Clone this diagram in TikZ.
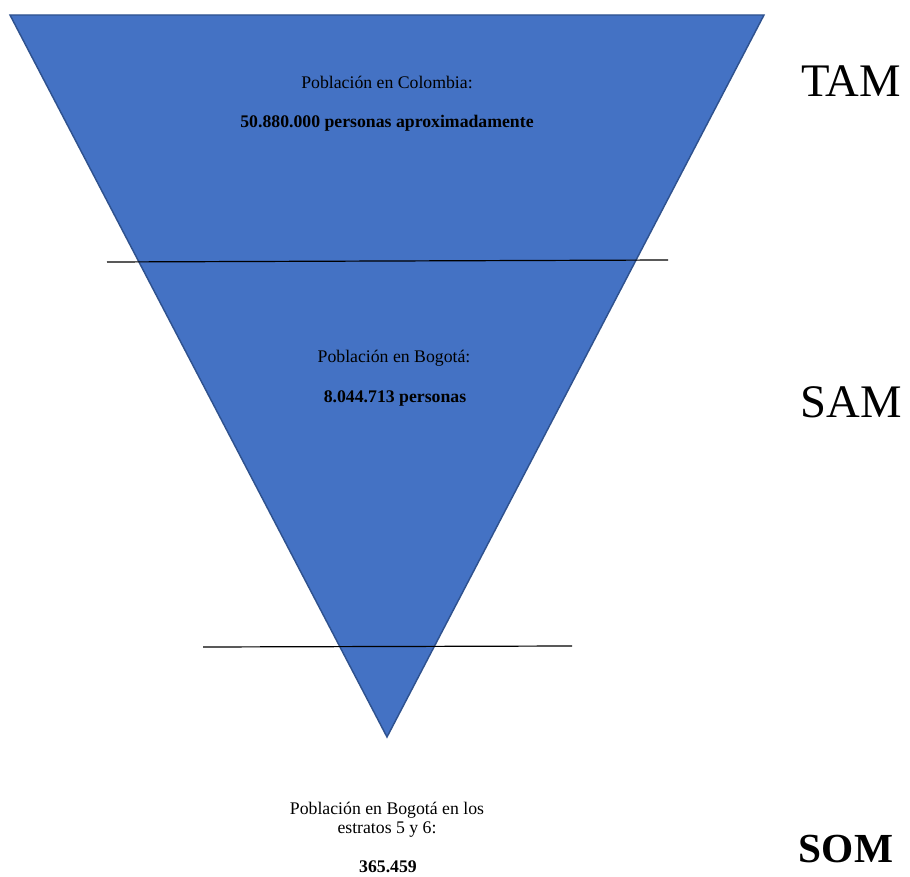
\documentclass[tikz,border=0pt]{standalone}
\usepackage{fontspec}
\setmainfont{Liberation Serif}
\usetikzlibrary{positioning}
\definecolor{funnelfill}{HTML}{4472C4}
\definecolor{funneledge}{HTML}{2F528F}

\begin{document}
\begin{tikzpicture}[x=0.75pt, y=-0.75pt, font=\fontsize{13.3}{13.5}\selectfont,
    lbl/.style={anchor=base, inner sep=0pt, align=center},
    tier/.style={anchor=base, inner sep=0pt, font=\fontsize{35}{40}\selectfont}]
    \useasboundingbox (0,0) rectangle (910,877);

    % funnel
    \draw[fill=funnelfill, draw=funneledge, line width=1.1pt] (10,15) -- (764,15) -- (387,737) -- cycle;
    \draw[line width=0.9pt] (107,262) -- (668,260);
    \draw[line width=0.9pt] (203,647) -- (572,646);

    \node[lbl] (col) at (387,89) {Población en Colombia:};
    \node[lbl, font=\fontsize{13.3}{13.5}\selectfont\bfseries] (colnum) at (387,128) {50.880.000 personas aproximadamente};
    \node[lbl] (bog) at (394,362) {Población en Bogotá:};
    \node[lbl, font=\fontsize{13.3}{13.5}\selectfont\bfseries] (bognum) at (395,402) {8.044.713 personas};
    \node[lbl, font=\fontsize{13.3}{13.8}\selectfont] (est) at (387,833) {Población en Bogotá en los\\estratos 5 y 6:};
    \node[lbl, font=\fontsize{13.3}{13.5}\selectfont\bfseries] (estnum) at (388,872) {365.459};

    \node[tier] (tam) at (851,97) {TAM};
    \node[tier] (sam) at (851,417) {SAM};
    \node[tier, font=\fontsize{31}{36}\selectfont\bfseries] (som) at (846,862) {SOM};
\end{tikzpicture}
\end{document}
